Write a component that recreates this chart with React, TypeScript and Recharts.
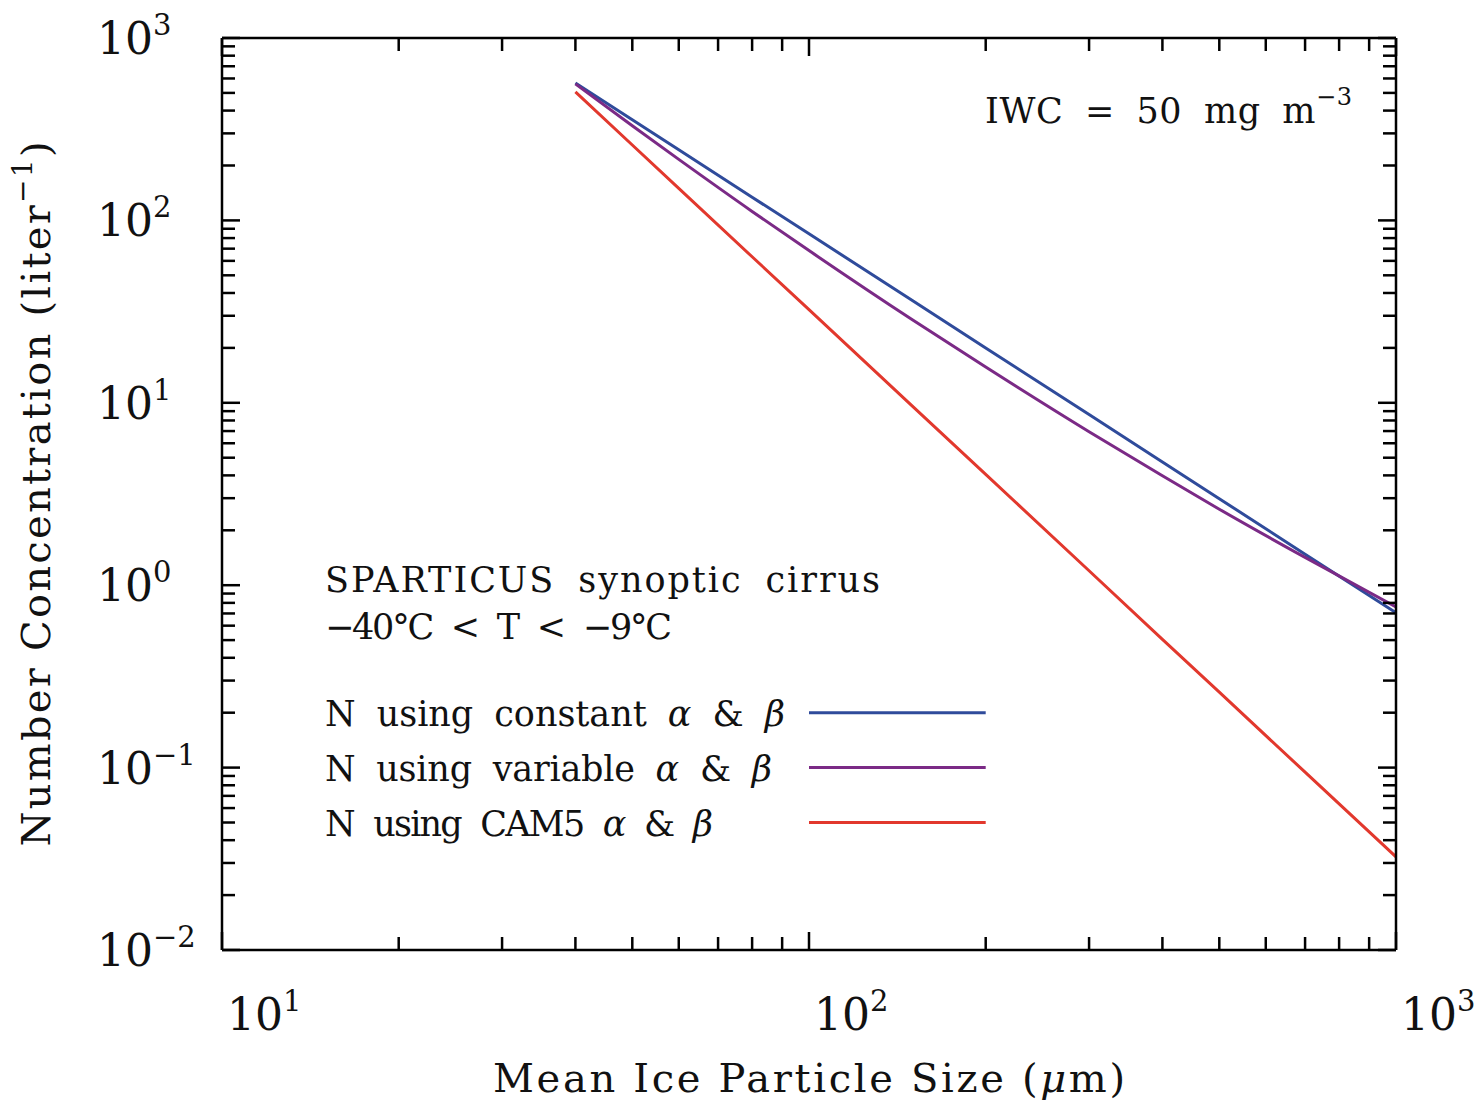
import React from "react";
import { LineChart, Line, XAxis, YAxis, ReferenceLine } from "recharts";

// mean ice particle size (µm)
const sizes = [40, 50, 60, 80, 100, 150, 200, 300, 400, 500, 700, 1000];
// number concentration (liter^-1)
const constantAB = [566, 356, 244, 134, 84.4, 36.4, 20.0, 8.62, 4.74, 2.98, 1.48, 0.707];
const variableAB = [560, 330, 216, 112, 68.3, 28.5, 15.7, 6.94, 3.98, 2.61, 1.42, 0.76];
const cam5AB = [506, 259, 150, 63.2, 32.4, 9.59, 4.05, 1.2, 0.505, 0.259, 0.0944, 0.0324];

const xMajor = [10, 100, 1000];
const xMajorExp = ["1", "2", "3"];
const xMinor = [20, 30, 40, 50, 60, 70, 80, 90, 200, 300, 400, 500, 600, 700, 800, 900];
const yMajor = [0.01, 0.1, 1, 10, 100, 1000];
const yMajorExp = ["\u22122", "\u22121", "0", "1", "2", "3"];
const yMinor = [
  0.02, 0.03, 0.04, 0.05, 0.06, 0.07, 0.08, 0.09,
  0.2, 0.3, 0.4, 0.5, 0.6, 0.7, 0.8, 0.9,
  2, 3, 4, 5, 6, 7, 8, 9,
  20, 30, 40, 50, 60, 70, 80, 90,
  200, 300, 400, 500, 600, 700, 800, 900,
];

// legend sample lines (data units)
const legendX = [100, 200];
const legendY = [0.2, 0.1, 0.05];

const BLUE = "#2f4b9b";
const PURPLE = "#7b2a86";
const RED = "#e2382d";
const FONT = "'DejaVu Serif', serif";

const data = sizes.map((s, i) => ({
  size: s,
  constant: constantAB[i],
  variable: variableAB[i],
  cam5: cam5AB[i],
}));

const xTicks = [...xMajor, ...xMinor].sort((a, b) => a - b);
const yTicks = [...yMajor, ...yMinor].sort((a, b) => a - b);

const MAJOR_LEN = 18;
const MINOR_LEN = 13;

const Pow10 = ({ x, y, exp }: { x: number; y: number; exp: string }) => (
  <text x={x} y={y} fontFamily={FONT} fontSize={44} fill="#111" textAnchor="start">
    <tspan>10</tspan>
    <tspan dy={-19} fontSize={29}>{exp}</tspan>
  </text>
);

const XTick = (props: any) => {
  const { x, y, payload, side } = props;
  const idx = xMajor.indexOf(payload.value);
  const len = idx >= 0 ? MAJOR_LEN : MINOR_LEN;
  const dir = side === "bottom" ? -1 : 1;
  return (
    <g>
      <line x1={x} y1={y} x2={x} y2={y + dir * len} stroke="#000" strokeWidth={2.5} />
      {side === "bottom" && idx >= 0 && <Pow10 x={x + 5} y={y + 80} exp={xMajorExp[idx]} />}
    </g>
  );
};

const YTick = (props: any) => {
  const { x, y, payload, side } = props;
  const idx = yMajor.indexOf(payload.value);
  const len = idx >= 0 ? MAJOR_LEN : MINOR_LEN;
  const dir = side === "left" ? 1 : -1;
  return (
    <g>
      <line x1={x} y1={y} x2={x + dir * len} y2={y} stroke="#000" strokeWidth={2.5} />
      {side === "left" && idx >= 0 && <Pow10 x={x - 125} y={y + 16} exp={yMajorExp[idx]} />}
    </g>
  );
};

const axisLine = { stroke: "#000", strokeWidth: 2.5 };

export default function App() {
  return (
    <div style={{ position: "absolute", left: 0, top: 0, width: 1480, height: 1106, background: "#fff" }}>
      <LineChart width={1480} height={1106} data={data} margin={{ top: 37, right: 83, bottom: 0, left: 0 }}>
        <XAxis
          dataKey="size"
          type="number"
          scale="log"
          domain={[10, 1000]}
          allowDataOverflow
          ticks={xTicks}
          interval={0}
          height={156}
          tickSize={0}
          tickMargin={0}
          tickLine={false}
          axisLine={axisLine}
          tick={(p: any) => <XTick {...p} side="bottom" />}
        />
        <XAxis
          xAxisId="top"
          orientation="top"
          dataKey="size"
          type="number"
          scale="log"
          domain={[10, 1000]}
          allowDataOverflow
          ticks={xTicks}
          interval={0}
          height={1}
          tickSize={0}
          tickMargin={0}
          tickLine={false}
          axisLine={axisLine}
          tick={(p: any) => <XTick {...p} side="top" />}
        />
        <YAxis
          type="number"
          scale="log"
          domain={[0.01, 1000]}
          allowDataOverflow
          ticks={yTicks}
          interval={0}
          width={222}
          tickSize={0}
          tickMargin={0}
          tickLine={false}
          axisLine={axisLine}
          tick={(p: any) => <YTick {...p} side="left" />}
        />
        <YAxis
          yAxisId="right"
          orientation="right"
          type="number"
          scale="log"
          domain={[0.01, 1000]}
          allowDataOverflow
          ticks={yTicks}
          interval={0}
          width={1}
          tickSize={0}
          tickMargin={0}
          tickLine={false}
          axisLine={axisLine}
          tick={(p: any) => <YTick {...p} side="right" />}
        />
        <Line dataKey="constant" type="linear" stroke={BLUE} strokeWidth={3} dot={false} isAnimationActive={false} />
        <Line dataKey="variable" type="monotone" stroke={PURPLE} strokeWidth={3} dot={false} isAnimationActive={false} />
        <Line dataKey="cam5" type="linear" stroke={RED} strokeWidth={3} dot={false} isAnimationActive={false} />
        {[BLUE, PURPLE, RED].map((c, i) => (
          <ReferenceLine
            key={c}
            segment={[
              { x: legendX[0], y: legendY[i] },
              { x: legendX[1], y: legendY[i] },
            ]}
            stroke={c}
            strokeWidth={3}
          />
        ))}
      </LineChart>
      <svg
        width={1480}
        height={1106}
        style={{ position: "absolute", left: 0, top: 0, pointerEvents: "none" }}
        fontFamily={FONT}
        fill="#111"
      >
        <g wordSpacing={10}>
          <text x={985} y={123} fontSize={35} textLength={367} lengthAdjust="spacing">
            IWC = 50 mg m<tspan dy={-18} fontSize={24}>{"\u22123"}</tspan>
          </text>
          <text x={325} y={592} fontSize={35} textLength={555} lengthAdjust="spacing">
            SPARTICUS synoptic cirrus
          </text>
          <text x={325} y={639} fontSize={35} textLength={347} lengthAdjust="spacing">
            {"\u221240\u00b0C < T < \u22129\u00b0C"}
          </text>
          <text x={325} y={726} fontSize={35} textLength={460} lengthAdjust="spacing">
            N using constant <tspan fontStyle="italic">{"\u03b1"}</tspan> &amp; <tspan fontStyle="italic">{"\u03b2"}</tspan>
          </text>
          <text x={325} y={781} fontSize={35} textLength={447} lengthAdjust="spacing">
            N using variable <tspan fontStyle="italic">{"\u03b1"}</tspan> &amp; <tspan fontStyle="italic">{"\u03b2"}</tspan>
          </text>
          <text x={325} y={836} fontSize={35} textLength={388} lengthAdjust="spacing">
            N using CAM5 <tspan fontStyle="italic">{"\u03b1"}</tspan> &amp; <tspan fontStyle="italic">{"\u03b2"}</tspan>
          </text>
        </g>
        <text x={809} y={1092} fontSize={40} textAnchor="middle" textLength={632} lengthAdjust="spacing">
          Mean Ice Particle Size (<tspan fontStyle="italic">{"\u03bc"}</tspan>m)
        </text>
        <text
          x={0}
          y={0}
          fontSize={40}
          textAnchor="middle"
          textLength={705}
          lengthAdjust="spacing"
          transform="translate(50,494) rotate(-90)"
        >
          Number Concentration (liter<tspan dy={-18} fontSize={28}>{"\u22121"}</tspan>
          <tspan dy={18}>)</tspan>
        </text>
      </svg>
    </div>
  );
}
